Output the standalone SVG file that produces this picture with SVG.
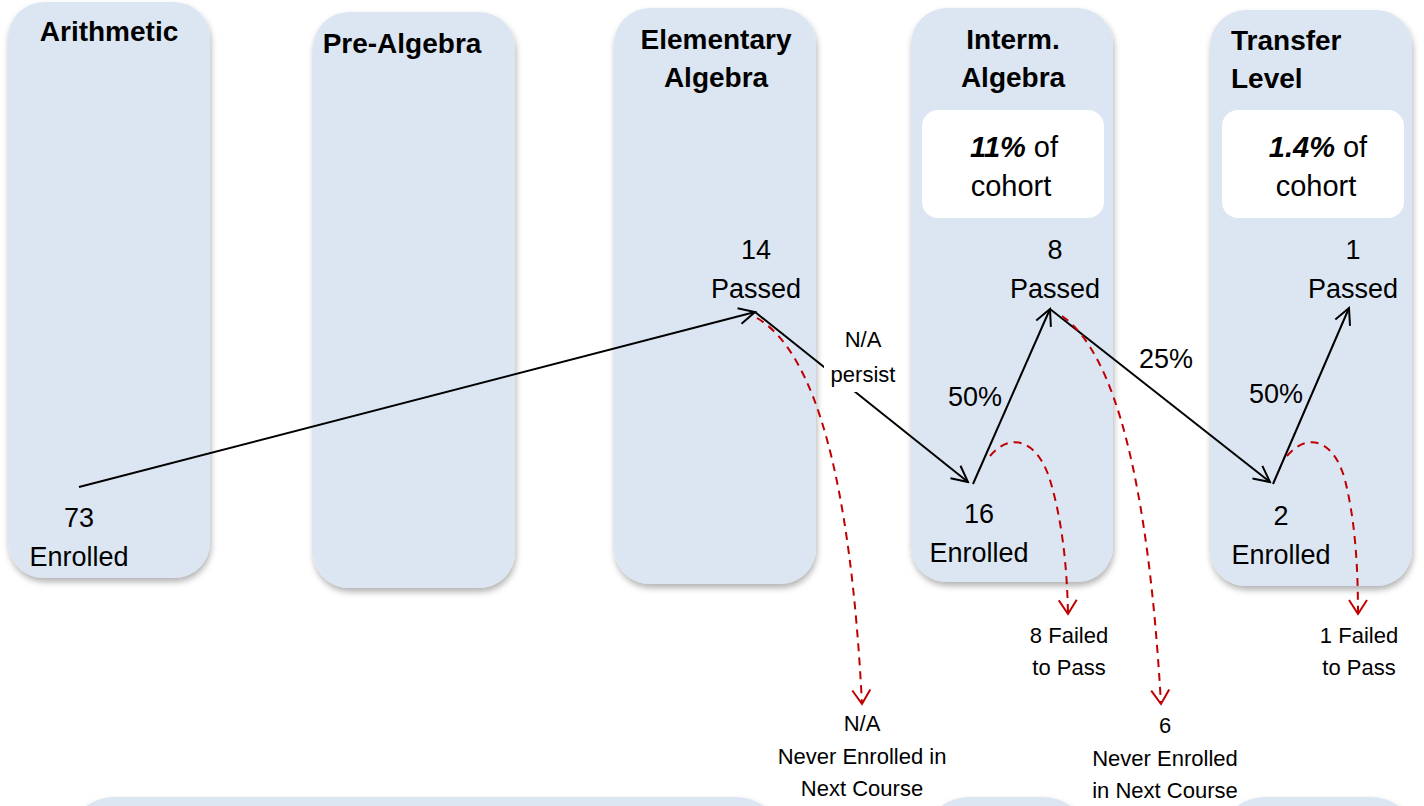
<svg xmlns="http://www.w3.org/2000/svg" width="1424" height="806" viewBox="0 0 1424 806">
<style>
.col{fill:#dce6f2;filter:url(#sh)}
.inner{fill:#ffffff}
.title{font-family:"Liberation Sans",Arial,sans-serif;font-weight:bold;font-size:28px;fill:#000}
.body{font-family:"Liberation Sans",Arial,sans-serif;font-size:27px;fill:#000}
.small{font-family:"Liberation Sans",Arial,sans-serif;font-size:22px;fill:#000}
.big{font-family:"Liberation Sans",Arial,sans-serif;font-size:29px;fill:#000}
.c{text-anchor:middle}
.blk{fill:none;stroke:#000;stroke-width:2;marker-end:url(#ah)}
.red{fill:none;stroke:#c00000;stroke-width:2;stroke-dasharray:8 6;marker-end:url(#rh)}
</style>
<defs>
<filter id="sh" x="-10%" y="-10%" width="120%" height="120%">
<feDropShadow dx="1" dy="4" stdDeviation="3" flood-color="#000" flood-opacity="0.3"/>
</filter>
<marker id="ah" viewBox="0 0 20 20" refX="18" refY="10" markerWidth="20" markerHeight="20" markerUnits="userSpaceOnUse" orient="auto">
<path d="M2,2 L18,10 L2,18" fill="none" stroke="#000" stroke-width="2"/>
</marker>
<marker id="rh" viewBox="0 0 20 20" refX="18" refY="10" markerWidth="20" markerHeight="20" markerUnits="userSpaceOnUse" orient="auto">
<path d="M4,1 L18,10 L4,19" fill="none" stroke="#c00000" stroke-width="2"/>
</marker>
</defs>

<g id="bottom-shapes">
<rect class="col" x="75" y="797" width="700" height="60" rx="40"/>
<rect class="col" x="930" y="797" width="152" height="60" rx="40"/>
<rect class="col" x="1226" y="797" width="184" height="60" rx="40"/>
</g>

<g id="arithmetic">
<rect class="col" x="8" y="2" width="202" height="576" rx="36"/>
<text class="title c" x="109" y="41">Arithmetic</text>
<text class="body c" x="79" y="527">73</text>
<text class="body c" x="79" y="566">Enrolled</text>
</g>

<g id="pre-algebra">
<rect class="col" x="313" y="12" width="202" height="576" rx="36"/>
<text class="title c" x="402" y="53">Pre-Algebra</text>
</g>

<g id="elementary-algebra">
<rect class="col" x="614" y="8" width="202" height="576" rx="36"/>
<text class="title c" x="716" y="49">Elementary</text>
<text class="title c" x="716" y="87">Algebra</text>
<text class="body c" x="756" y="259">14</text>
<text class="body c" x="756" y="298">Passed</text>
</g>

<g id="interm-algebra">
<rect class="col" x="911" y="8" width="202" height="574" rx="36"/>
<text class="title c" x="1013" y="49">Interm.</text>
<text class="title c" x="1013" y="87">Algebra</text>
<rect class="inner" x="922" y="110" width="182" height="108" rx="16"/>
<text class="big c" x="1014" y="157"><tspan font-weight="bold" font-style="italic">11%</tspan> of</text>
<text class="big c" x="1011" y="196">cohort</text>
<text class="body c" x="1055" y="259">8</text>
<text class="body c" x="1055" y="298">Passed</text>
<text class="body c" x="979" y="523">16</text>
<text class="body c" x="979" y="562">Enrolled</text>
</g>

<g id="transfer-level">
<rect class="col" x="1210" y="10" width="202" height="576" rx="36"/>
<text class="title" x="1231" y="50">Transfer</text>
<text class="title" x="1231" y="88">Level</text>
<rect class="inner" x="1222" y="110" width="182" height="108" rx="16"/>
<text class="big c" x="1318" y="157"><tspan font-weight="bold" font-style="italic">1.4%</tspan> of</text>
<text class="big c" x="1316" y="196">cohort</text>
<text class="body c" x="1353" y="259">1</text>
<text class="body c" x="1353" y="298">Passed</text>
<text class="body c" x="1281" y="525">2</text>
<text class="body c" x="1281" y="564">Enrolled</text>
</g>

<g id="connectors">
<path class="blk" d="M79,487 L755,312"/>
<path class="blk" d="M755,312 L968,482"/>
<path class="blk" d="M973,484 L1050,309"/>
<path class="blk" d="M1050,309 L1270,482"/>
<path class="blk" d="M1273,484 L1349,308"/>
<path class="red" d="M757,318 Q845,370 862,704"/>
<path class="red" d="M1062,316 Q1142,372 1161,704"/>
<path class="red" d="M990,456 C1008,434 1036,436 1050,480 C1062,520 1067,565 1068,614"/>
<path class="red" d="M1287,456 C1305,434 1333,436 1345,480 C1355,520 1358,565 1358,614"/>
</g>

<g id="labels">
<rect x="824" y="324" width="78" height="68" fill="#ffffff"/>
<text class="small c" x="863" y="347">N/A</text>
<text class="small c" x="863" y="382">persist</text>
<text class="body c" x="975" y="406">50%</text>
<text class="body c" x="1166" y="368">25%</text>
<text class="body c" x="1276" y="403">50%</text>
<text class="small c" x="1069" y="643">8 Failed</text>
<text class="small c" x="1069" y="675">to Pass</text>
<text class="small c" x="1359" y="643">1 Failed</text>
<text class="small c" x="1359" y="675">to Pass</text>
<text class="small c" x="862" y="731">N/A</text>
<text class="small c" x="862" y="764">Never Enrolled in</text>
<text class="small c" x="862" y="796">Next Course</text>
<text class="small c" x="1165" y="733">6</text>
<text class="small c" x="1165" y="766">Never Enrolled</text>
<text class="small c" x="1165" y="798">in Next Course</text>
</g>
</svg>
